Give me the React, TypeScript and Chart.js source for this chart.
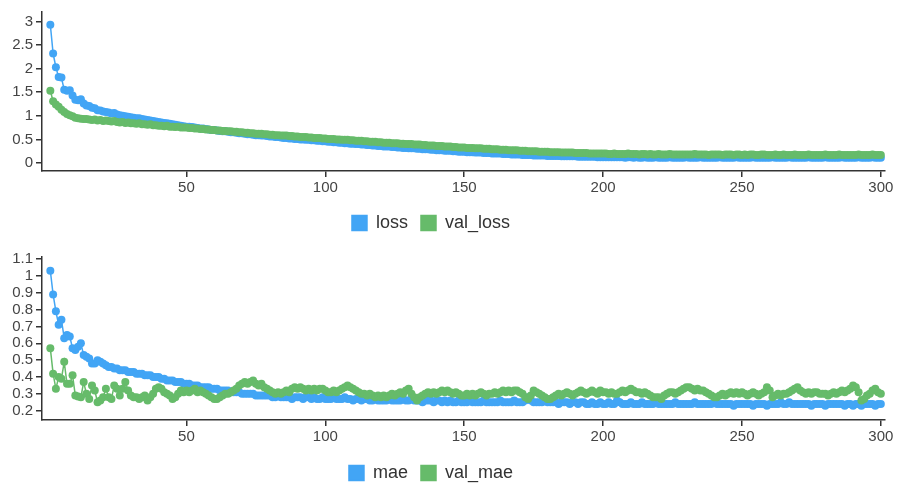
import React, { useEffect, useRef } from "react";
import { Chart, registerables } from "chart.js";

Chart.register(...registerables);

// ---------------- data ----------------
const EPOCHS: number[] = Array.from({ length: 300 }, (_, i) => i + 1);

const LOSS: number[] = [
  2.93, 2.32, 2.03, 1.82, 1.81, 1.55, 1.53, 1.54, 1.43, 1.34,
  1.33, 1.35, 1.26, 1.22, 1.21, 1.17, 1.16, 1.12, 1.11, 1.09,
  1.08, 1.07, 1.05, 1.06, 1.03, 1.01, 1.0, 0.99, 0.98, 0.97,
  0.96, 0.95, 0.95, 0.93, 0.92, 0.91, 0.9, 0.89, 0.88, 0.87,
  0.86, 0.85, 0.84, 0.83, 0.82, 0.81, 0.8, 0.79, 0.78, 0.77,
  0.77, 0.76, 0.75, 0.74, 0.73, 0.73, 0.72, 0.71, 0.7, 0.7,
  0.69, 0.68, 0.67, 0.67, 0.66, 0.65, 0.65, 0.64, 0.63, 0.63,
  0.62, 0.61, 0.61, 0.6, 0.59, 0.59, 0.58, 0.58, 0.57, 0.56,
  0.56, 0.55, 0.55, 0.54, 0.53, 0.53, 0.52, 0.52, 0.51, 0.51,
  0.5, 0.5, 0.49, 0.49, 0.48, 0.48, 0.47, 0.47, 0.46, 0.46,
  0.45, 0.45, 0.44, 0.44, 0.43, 0.43, 0.42, 0.42, 0.41, 0.41,
  0.4, 0.4, 0.39, 0.39, 0.38, 0.38, 0.37, 0.37, 0.36, 0.36,
  0.35, 0.35, 0.35, 0.34, 0.34, 0.33, 0.33, 0.32, 0.32, 0.31,
  0.31, 0.31, 0.3, 0.3, 0.29, 0.29, 0.29, 0.28, 0.28, 0.27,
  0.27, 0.27, 0.26, 0.26, 0.26, 0.25, 0.25, 0.24, 0.24, 0.24,
  0.23, 0.23, 0.23, 0.22, 0.22, 0.22, 0.21, 0.21, 0.21, 0.2,
  0.2, 0.2, 0.2, 0.19, 0.19, 0.19, 0.18, 0.18, 0.18, 0.18,
  0.17, 0.17, 0.17, 0.17, 0.16, 0.16, 0.16, 0.16, 0.16, 0.15,
  0.15, 0.15, 0.15, 0.15, 0.14, 0.14, 0.14, 0.14, 0.14, 0.14,
  0.13, 0.13, 0.13, 0.13, 0.13, 0.13, 0.13, 0.12, 0.12, 0.12,
  0.12, 0.12, 0.12, 0.12, 0.12, 0.12, 0.12, 0.11, 0.12, 0.12,
  0.11, 0.12, 0.11, 0.11, 0.12, 0.11, 0.11, 0.11, 0.12, 0.11,
  0.11, 0.11, 0.11, 0.12, 0.11, 0.11, 0.11, 0.11, 0.11, 0.12,
  0.11, 0.11, 0.11, 0.11, 0.12, 0.11, 0.11, 0.11, 0.11, 0.11,
  0.11, 0.12, 0.11, 0.11, 0.11, 0.11, 0.11, 0.12, 0.11, 0.11,
  0.11, 0.11, 0.11, 0.12, 0.11, 0.11, 0.11, 0.11, 0.11, 0.11,
  0.12, 0.11, 0.11, 0.11, 0.11, 0.11, 0.12, 0.11, 0.11, 0.11,
  0.11, 0.11, 0.11, 0.12, 0.11, 0.11, 0.11, 0.11, 0.11, 0.12,
  0.11, 0.11, 0.11, 0.11, 0.11, 0.12, 0.11, 0.11, 0.11, 0.11,
  0.11, 0.12, 0.11, 0.11, 0.11, 0.11, 0.12, 0.11, 0.11, 0.11,
];

const VAL_LOSS: number[] = [
  1.53, 1.31, 1.24, 1.19, 1.13, 1.08, 1.04, 1.01, 0.99, 0.96,
  0.95, 0.94, 0.93, 0.93, 0.92, 0.91, 0.92, 0.9, 0.91, 0.89,
  0.9, 0.89, 0.88, 0.89, 0.87, 0.86, 0.87, 0.85, 0.86, 0.84,
  0.84, 0.83, 0.84, 0.82, 0.82, 0.81, 0.82, 0.8, 0.8, 0.79,
  0.79, 0.78, 0.79, 0.77, 0.77, 0.76, 0.77, 0.75, 0.75, 0.75,
  0.74, 0.74, 0.73, 0.73, 0.72, 0.72, 0.71, 0.71, 0.7, 0.7,
  0.69, 0.69, 0.68, 0.68, 0.67, 0.67, 0.66, 0.66, 0.65, 0.65,
  0.64, 0.64, 0.63, 0.63, 0.62, 0.62, 0.62, 0.61, 0.61, 0.6,
  0.6, 0.59, 0.59, 0.58, 0.58, 0.58, 0.57, 0.57, 0.56, 0.56,
  0.55, 0.55, 0.55, 0.54, 0.54, 0.53, 0.53, 0.53, 0.52, 0.52,
  0.51, 0.51, 0.51, 0.5, 0.5, 0.49, 0.49, 0.49, 0.48, 0.48,
  0.47, 0.47, 0.47, 0.46, 0.46, 0.45, 0.45, 0.45, 0.44, 0.44,
  0.43, 0.43, 0.43, 0.42, 0.42, 0.42, 0.41, 0.41, 0.4, 0.4,
  0.4, 0.39, 0.39, 0.39, 0.38, 0.38, 0.37, 0.37, 0.37, 0.36,
  0.36, 0.36, 0.35, 0.35, 0.35, 0.34, 0.34, 0.33, 0.33, 0.33,
  0.32, 0.32, 0.32, 0.31, 0.31, 0.31, 0.3, 0.3, 0.3, 0.29,
  0.29, 0.29, 0.28, 0.28, 0.28, 0.27, 0.27, 0.27, 0.27, 0.26,
  0.26, 0.26, 0.25, 0.25, 0.25, 0.25, 0.24, 0.24, 0.24, 0.24,
  0.23, 0.23, 0.23, 0.23, 0.22, 0.22, 0.22, 0.22, 0.22, 0.21,
  0.21, 0.21, 0.21, 0.21, 0.2, 0.2, 0.2, 0.2, 0.2, 0.2,
  0.2, 0.19, 0.19, 0.2, 0.19, 0.19, 0.19, 0.19, 0.2, 0.19,
  0.19, 0.19, 0.18, 0.19, 0.19, 0.18, 0.19, 0.18, 0.18, 0.19,
  0.18, 0.18, 0.18, 0.19, 0.18, 0.18, 0.18, 0.18, 0.18, 0.18,
  0.18, 0.18, 0.19, 0.18, 0.18, 0.18, 0.18, 0.17, 0.18, 0.18,
  0.18, 0.18, 0.17, 0.18, 0.18, 0.18, 0.17, 0.18, 0.18, 0.17,
  0.18, 0.17, 0.18, 0.18, 0.17, 0.17, 0.18, 0.18, 0.17, 0.17,
  0.17, 0.18, 0.17, 0.17, 0.18, 0.17, 0.17, 0.17, 0.18, 0.17,
  0.17, 0.17, 0.17, 0.18, 0.17, 0.17, 0.17, 0.17, 0.17, 0.18,
  0.17, 0.17, 0.17, 0.17, 0.18, 0.17, 0.17, 0.17, 0.17, 0.17,
  0.17, 0.18, 0.17, 0.17, 0.17, 0.17, 0.18, 0.17, 0.17, 0.17,
];

const MAE: number[] = [
  1.03, 0.89, 0.79, 0.71, 0.74, 0.63, 0.65, 0.64, 0.57, 0.56,
  0.58, 0.6, 0.53, 0.52, 0.51, 0.48, 0.48, 0.5, 0.49, 0.48,
  0.47, 0.46, 0.46, 0.45, 0.45, 0.44, 0.44, 0.44, 0.43, 0.43,
  0.43, 0.42, 0.42, 0.42, 0.41, 0.41, 0.41, 0.4, 0.4, 0.4,
  0.39, 0.39, 0.38, 0.38, 0.38, 0.37, 0.37, 0.37, 0.36, 0.36,
  0.36, 0.35, 0.35, 0.35, 0.34, 0.34, 0.34, 0.34, 0.33, 0.33,
  0.33, 0.32, 0.32, 0.32, 0.32, 0.31, 0.31, 0.31, 0.31, 0.3,
  0.3, 0.3, 0.3, 0.3, 0.29, 0.29, 0.29, 0.29, 0.29, 0.29,
  0.28, 0.28, 0.29, 0.28, 0.28, 0.28, 0.28, 0.27, 0.28, 0.28,
  0.28, 0.27, 0.28, 0.28, 0.27, 0.28, 0.27, 0.27, 0.28, 0.27,
  0.27, 0.27, 0.28, 0.27, 0.27, 0.27, 0.28, 0.27, 0.27, 0.26,
  0.27, 0.27, 0.26, 0.27, 0.27, 0.26, 0.26, 0.27, 0.26, 0.26,
  0.26, 0.26, 0.27, 0.26, 0.26, 0.26, 0.26, 0.27, 0.26, 0.26,
  0.27, 0.26, 0.26, 0.26, 0.25, 0.26, 0.26, 0.26, 0.25, 0.26,
  0.26, 0.25, 0.26, 0.25, 0.26, 0.25, 0.25, 0.26, 0.25, 0.25,
  0.25, 0.26, 0.25, 0.25, 0.25, 0.25, 0.26, 0.25, 0.25, 0.25,
  0.25, 0.25, 0.26, 0.25, 0.25, 0.25, 0.25, 0.26, 0.25, 0.25,
  0.25, 0.26, 0.28, 0.26, 0.25, 0.25, 0.25, 0.25, 0.26, 0.25,
  0.25, 0.25, 0.25, 0.24, 0.25, 0.25, 0.25, 0.24, 0.25, 0.25,
  0.24, 0.25, 0.25, 0.24, 0.24, 0.25, 0.24, 0.24, 0.25, 0.24,
  0.24, 0.25, 0.24, 0.24, 0.26, 0.25, 0.24, 0.24, 0.24, 0.25,
  0.24, 0.24, 0.24, 0.25, 0.24, 0.24, 0.24, 0.24, 0.25, 0.24,
  0.24, 0.24, 0.24, 0.24, 0.24, 0.25, 0.24, 0.24, 0.24, 0.24,
  0.24, 0.24, 0.25, 0.24, 0.24, 0.24, 0.24, 0.24, 0.24, 0.25,
  0.24, 0.24, 0.24, 0.24, 0.24, 0.24, 0.23, 0.24, 0.24, 0.24,
  0.24, 0.24, 0.24, 0.23, 0.24, 0.24, 0.24, 0.24, 0.23, 0.24,
  0.24, 0.24, 0.24, 0.25, 0.24, 0.24, 0.25, 0.24, 0.24, 0.24,
  0.24, 0.24, 0.24, 0.24, 0.23, 0.24, 0.24, 0.24, 0.24, 0.23,
  0.24, 0.24, 0.24, 0.24, 0.24, 0.24, 0.23, 0.24, 0.24, 0.23,
  0.24, 0.24, 0.23, 0.24, 0.24, 0.24, 0.24, 0.23, 0.24, 0.24,
];

const VAL_MAE: number[] = [
  0.57, 0.42, 0.33, 0.4, 0.39, 0.49, 0.36, 0.36, 0.41, 0.29,
  0.285, 0.28, 0.37, 0.3, 0.27, 0.35, 0.32, 0.25, 0.26, 0.28,
  0.33, 0.28, 0.27, 0.35, 0.33, 0.29, 0.33, 0.37, 0.32, 0.29,
  0.28, 0.28, 0.27, 0.28, 0.29, 0.26, 0.28, 0.3, 0.33, 0.34,
  0.33, 0.31, 0.3, 0.29, 0.27, 0.28, 0.3, 0.32, 0.31, 0.32,
  0.31, 0.32, 0.33, 0.31, 0.32, 0.31, 0.3, 0.29, 0.28, 0.27,
  0.27, 0.28, 0.29, 0.3, 0.3, 0.31, 0.32, 0.33, 0.35, 0.36,
  0.37, 0.36, 0.37, 0.38, 0.36, 0.35, 0.36, 0.34, 0.33, 0.32,
  0.31, 0.3, 0.31, 0.3, 0.31, 0.32, 0.31, 0.33, 0.34, 0.33,
  0.34, 0.33, 0.32, 0.33, 0.32, 0.33, 0.32, 0.33, 0.33, 0.32,
  0.31, 0.31, 0.32, 0.31, 0.32, 0.33, 0.34, 0.35, 0.34, 0.33,
  0.32, 0.31, 0.3, 0.3, 0.29, 0.3, 0.29, 0.28, 0.29, 0.28,
  0.29, 0.28, 0.29, 0.3, 0.29, 0.3, 0.31, 0.3, 0.32, 0.33,
  0.3, 0.28, 0.26, 0.28, 0.29, 0.3, 0.31, 0.3, 0.31, 0.3,
  0.31, 0.32, 0.31, 0.32, 0.31, 0.3, 0.31, 0.3, 0.29, 0.29,
  0.3, 0.29, 0.3, 0.29, 0.3, 0.31, 0.3, 0.29, 0.3, 0.3,
  0.31, 0.3, 0.31, 0.32, 0.31, 0.32, 0.31, 0.32, 0.32, 0.31,
  0.3, 0.28, 0.27, 0.29, 0.32, 0.31, 0.3, 0.29, 0.28, 0.27,
  0.27, 0.28, 0.29, 0.3, 0.29, 0.3, 0.31, 0.3, 0.29, 0.3,
  0.31, 0.32, 0.31, 0.3, 0.31, 0.32, 0.31, 0.3, 0.32, 0.31,
  0.31, 0.3, 0.31, 0.3, 0.3, 0.31, 0.32, 0.31, 0.32, 0.33,
  0.32, 0.31, 0.31, 0.3, 0.31, 0.3, 0.29, 0.28, 0.28, 0.28,
  0.27, 0.29, 0.3, 0.31, 0.31, 0.3, 0.31, 0.32, 0.33, 0.34,
  0.34, 0.33, 0.32, 0.33, 0.32, 0.32, 0.31, 0.3, 0.29, 0.28,
  0.28, 0.29, 0.3, 0.29, 0.3, 0.31, 0.3, 0.31, 0.3, 0.31,
  0.3, 0.29, 0.3, 0.31, 0.3, 0.29, 0.3, 0.31, 0.34, 0.32,
  0.28, 0.29, 0.3, 0.29, 0.3, 0.3, 0.31, 0.32, 0.33, 0.34,
  0.32, 0.31, 0.3, 0.31, 0.3, 0.31, 0.31, 0.3, 0.3, 0.3,
  0.29, 0.3, 0.31, 0.3, 0.31, 0.32, 0.31, 0.32, 0.33, 0.35,
  0.34, 0.31, 0.26, 0.27, 0.29, 0.3, 0.32, 0.33, 0.31, 0.3,
];

const X_TICKS: number[] = [50, 100, 150, 200, 250, 300];
const LOSS_Y_TICKS: number[] = [0, 0.5, 1, 1.5, 2, 2.5, 3];
const MAE_Y_TICKS: number[] = [0.2, 0.3, 0.4, 0.5, 0.6, 0.7, 0.8, 0.9, 1, 1.1];

// ---------------- styling ----------------
const BLUE = "#42a5f5";
const GREEN = "#66bb6a";
const FONT = "'Liberation Sans', Arial, sans-serif";
const AXIS_COLOR = "#333";

type PanelCfg = {
  names: [string, string];
  a: number[];
  b: number[];
  yMin: number;
  yMax: number;
  yTicks: number[];
  height: number;
  padTop: number;
  xAxisHeight: number;
};

function buildChart(canvas: HTMLCanvasElement, p: PanelCfg) {
  const legendShift = {
    id: "legendShift",
    beforeDraw(chart: any) {
      const l = chart.legend;
      if (l) {
        l.left = 0;
        l.right = 862;
      }
    },
  };
  return new Chart(canvas, {
    type: "line",
    data: {
      datasets: [
        {
          label: p.names[0],
          data: EPOCHS.map((e, i) => ({ x: e, y: p.a[i] })),
          borderColor: BLUE,
          backgroundColor: BLUE,
          pointBackgroundColor: BLUE,
          pointBorderWidth: 0,
          pointRadius: 4,
          borderWidth: 1.5,
          tension: 0,
          order: 1,
        },
        {
          label: p.names[1],
          data: EPOCHS.map((e, i) => ({ x: e, y: p.b[i] })),
          borderColor: GREEN,
          backgroundColor: GREEN,
          pointBackgroundColor: GREEN,
          pointBorderWidth: 0,
          pointRadius: 4,
          borderWidth: 1.5,
          tension: 0,
          order: 0,
        },
      ],
    },
    options: {
      responsive: false,
      animation: false,
      events: [],
      layout: { padding: { top: p.padTop, left: 0, right: 13, bottom: 0 } },
      plugins: {
        tooltip: { enabled: false },
        legend: {
          position: "bottom",
          labels: {
            boxWidth: 15,
            boxHeight: 15,
            padding: 13,
            color: "#333",
            font: { family: FONT, size: 18 },
            sort: (a: any, b: any) => a.datasetIndex - b.datasetIndex,
          },
        },
      },
      scales: {
        x: {
          type: "linear",
          min: -2,
          max: 301.5,
          afterBuildTicks: (s: any) => {
            s.ticks = X_TICKS.map((v) => ({ value: v }));
          },
          afterFit: (s: any) => {
            s.height = p.xAxisHeight;
          },
          grid: { drawOnChartArea: false, drawTicks: true, tickLength: 6, color: AXIS_COLOR, lineWidth: 1.5 },
          border: { color: AXIS_COLOR, width: 1.5 },
          ticks: {
            color: "#444",
            font: { family: FONT, size: 15 },
            padding: 2,
            maxRotation: 0,
            autoSkip: false,
            callback: (v: any) => String(v),
          },
        },
        y: {
          type: "linear",
          min: p.yMin,
          max: p.yMax,
          afterBuildTicks: (s: any) => {
            s.ticks = p.yTicks.map((v) => ({ value: v }));
          },
          afterFit: (s: any) => {
            s.width = 42;
          },
          grid: { drawOnChartArea: false, drawTicks: true, tickLength: 6, color: AXIS_COLOR, lineWidth: 1.5 },
          border: { color: AXIS_COLOR, width: 1.5 },
          ticks: {
            color: "#444",
            font: { family: FONT, size: 15 },
            padding: 3,
            autoSkip: false,
            callback: (v: any) => String(v),
          },
        },
      },
    },
    plugins: [legendShift],
  } as any);
}

function Panel({ cfg, top }: { cfg: PanelCfg; top: number }) {
  const ref = useRef<HTMLCanvasElement | null>(null);
  useEffect(() => {
    if (!ref.current) return;
    const chart = buildChart(ref.current, cfg);
    return () => chart.destroy();
  }, []);
  return (
    <canvas
      ref={ref}
      width={898}
      height={cfg.height}
      style={{ position: "absolute", left: 0, top, width: 898, height: cfg.height, display: "block" }}
    />
  );
}

const TOP_PANEL: PanelCfg = {
  names: ["loss", "val_loss"],
  a: LOSS,
  b: VAL_LOSS,
  yMin: -0.17,
  yMax: 3.2,
  yTicks: LOSS_Y_TICKS,
  height: 242,
  padTop: 8,
  xAxisHeight: 30,
};

const BOTTOM_PANEL: PanelCfg = {
  names: ["mae", "val_mae"],
  a: MAE,
  b: VAL_MAE,
  yMin: 0.145,
  yMax: 1.112,
  yTicks: MAE_Y_TICKS,
  height: 248,
  padTop: 13,
  xAxisHeight: 31,
};

export default function App() {
  return (
    <div
      style={{
        position: "absolute",
        left: 0,
        top: 0,
        width: 898,
        height: 486,
        overflow: "hidden",
        background: "#fff",
      }}
    >
      <Panel cfg={TOP_PANEL} top={0} />
      <Panel cfg={BOTTOM_PANEL} top={244} />
    </div>
  );
}
